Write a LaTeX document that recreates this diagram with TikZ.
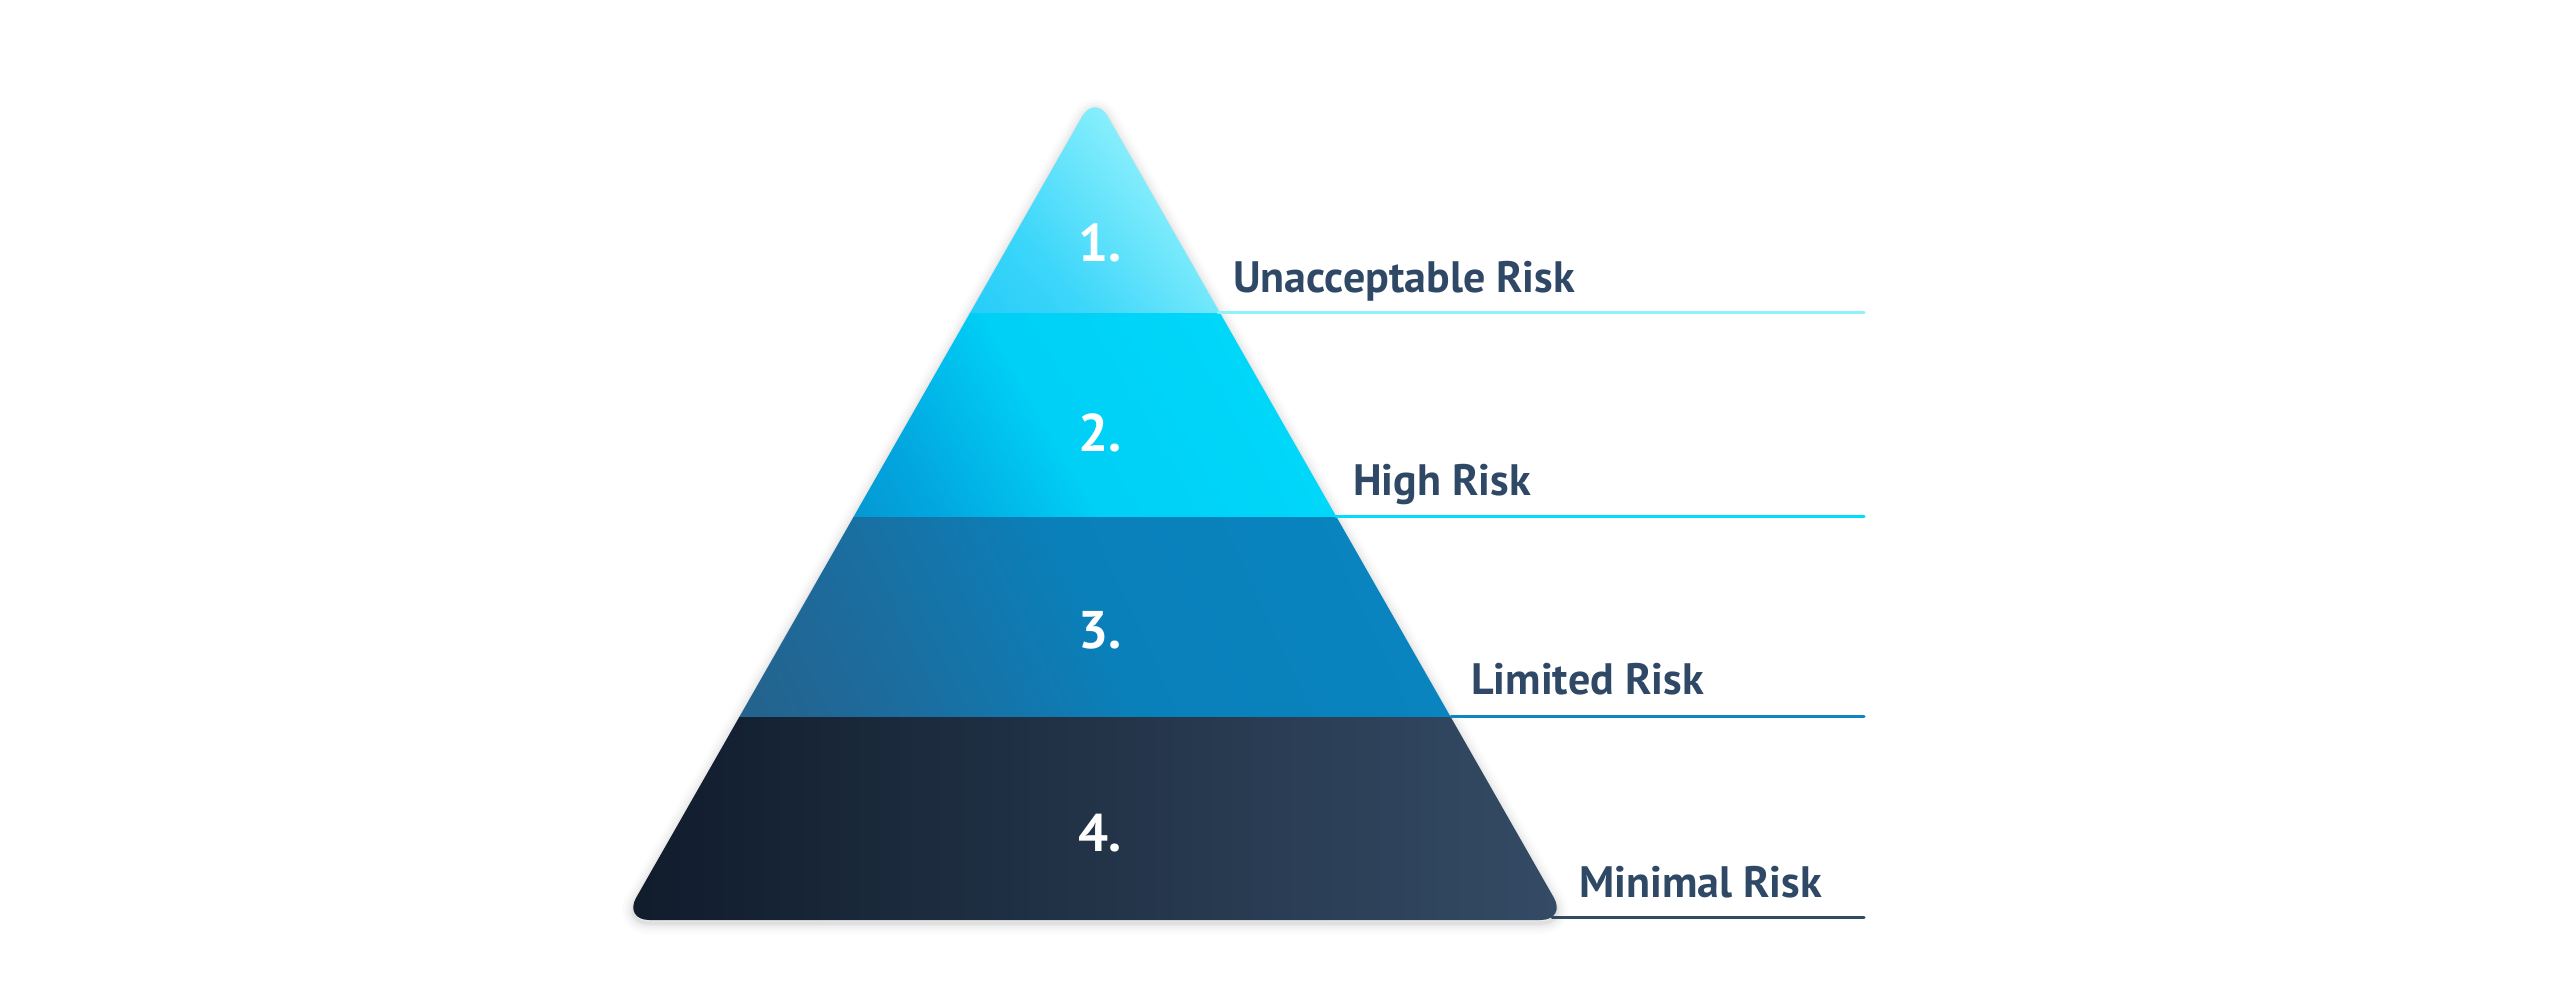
\documentclass[tikz,border=0pt]{standalone}
\usepackage{fontspec}
\setmainfont{PT Sans}
\definecolor{txt}{HTML}{2F4866}
\definecolor{lineA}{HTML}{8EF2FB}
\definecolor{lineB}{HTML}{00DCFB}
\definecolor{lineC}{HTML}{0A87C1}
\definecolor{lineD}{HTML}{334A65}
\definecolor{aA}{HTML}{10C2F6}
\definecolor{aB}{HTML}{3CD6FA}
\definecolor{aC}{HTML}{86EEFC}
\definecolor{aD}{HTML}{9CF6FD}
\definecolor{bA}{HTML}{0A7FBD}
\definecolor{bB}{HTML}{02A6DF}
\definecolor{bC}{HTML}{00CFF6}
\definecolor{bD}{HTML}{00E0FD}
\definecolor{cA}{HTML}{2F5676}
\definecolor{cB}{HTML}{1D6B9C}
\definecolor{cC}{HTML}{0A80BA}
\definecolor{cD}{HTML}{0788C3}
\definecolor{dA}{HTML}{101B2B}
\definecolor{dB}{HTML}{354C66}
\pgfdeclarehorizontalshading{tierone}{100bp}{color(0bp)=(aA); color(35bp)=(aB); color(62bp)=(aC); color(100bp)=(aD)}
\pgfdeclarehorizontalshading{tiertwo}{100bp}{color(0bp)=(bA); color(26bp)=(bB); color(44bp)=(bC); color(100bp)=(bD)}
\pgfdeclarehorizontalshading{tierthree}{100bp}{color(0bp)=(cA); color(30bp)=(cB); color(50bp)=(cC); color(100bp)=(cD)}
\tikzset{
  lab/.style={text=txt, font=\bfseries\fontsize{44}{50}\selectfont, inner sep=0pt, anchor=base west},
  num/.style={text=white, font=\bfseries\fontsize{53}{58}\selectfont, inner sep=0pt, anchor=base},
  rule/.style={line width=3pt, line cap=round},
}
\begin{document}
\begin{tikzpicture}[x=1pt,y=-1pt]
\path[use as bounding box] (0,0) rectangle (2560,1006);
\def\pyr{(1095,920) -- (623.4,920) -- (1095,94) -- (1566.6,920) -- cycle}
% soft shadow
\foreach \w/\o in {22/0.015,16/0.02,11/0.025,6/0.03,3/0.04}{
  \draw[black, opacity=\o, line width=\w pt, rounded corners=26pt, line join=round, yshift=-3pt] \pyr;
}
\begin{scope}
\clip[rounded corners=26pt] \pyr;
\shade[shading=tierone, shading angle=40] (950,90) rectangle (1240,313.5);
\shade[shading=tiertwo, shading angle=30] (845,313) rectangle (1345,517.5);
\shade[shading=tierthree, shading angle=25] (730,517) rectangle (1460,717.5);
\shade[left color=dA, right color=dB] (615,717) rectangle (1575,925);
\end{scope}
% edge points and line ends
\coordinate (e1) at (1218,312);
\coordinate (e2) at (1336,516);
\coordinate (e3) at (1451,716);
\coordinate (e4) at (1552,917);
\coordinate (f1) at (1864,312);
\coordinate (f2) at (1864,516);
\coordinate (f3) at (1864,716);
\coordinate (f4) at (1864,917);
\draw[rule, lineA] (e1) -- (f1);
\draw[rule, lineB] (e2) -- (f2);
\draw[rule, lineC] (e3) -- (f3);
\draw[rule, lineD] (e4) -- (f4);
% numbers
\node[num] (n1) at (1100,261) {1.};
\node[num] (n2) at (1100,451) {2.};
\node[num] (n3) at (1100,648) {3.};
\node[num] (n4) at (1100,851) {4.};
% labels
\node[lab] (l1) at (1233,292) {Unacceptable Risk};
\node[lab] (l2) at (1353,495) {High Risk};
\node[lab] (l3) at (1471,694) {Limited Risk};
\node[lab] (l4) at (1579,897) {Minimal Risk};
\end{tikzpicture}
\end{document}
